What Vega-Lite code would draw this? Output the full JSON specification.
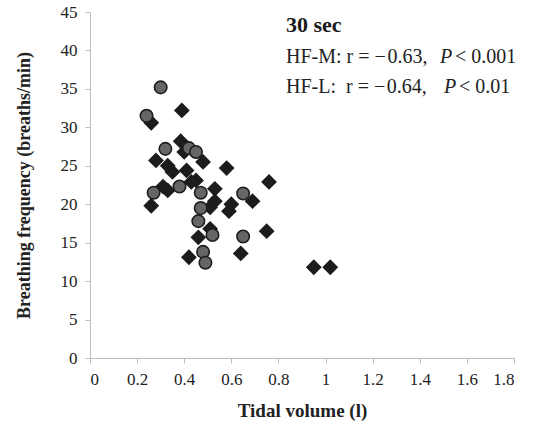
{
  "$schema": "https://vega.github.io/schema/vega-lite/v6.json",
  "width": 424,
  "height": 346,
  "autosize": {"type": "none"},
  "padding": {"left": 90, "top": 12, "right": 19, "bottom": 68},
  "background": "white",
  "config": {
    "view": {"stroke": null},
    "font": "Liberation Serif",
    "text": {"font": "Liberation Serif"},
    "axis": {
      "domainColor": "#bdbdbd",
      "tickColor": "#bdbdbd",
      "tickSize": 5,
      "grid": false,
      "labelFont": "Liberation Serif",
      "labelFontSize": 17,
      "labelColor": "#222222",
      "titleFont": "Liberation Serif",
      "titleFontSize": 18,
      "titleFontWeight": "bold",
      "titleColor": "#222222"
    }
  },
  "datasets": {
    "points": [
      {"group": "HF-M", "volume": 0.39, "freq": 32.2},
      {"group": "HF-M", "volume": 0.26, "freq": 30.6},
      {"group": "HF-M", "volume": 0.385, "freq": 28.2},
      {"group": "HF-M", "volume": 0.40, "freq": 26.8},
      {"group": "HF-M", "volume": 0.28, "freq": 25.7},
      {"group": "HF-M", "volume": 0.33, "freq": 25.0},
      {"group": "HF-M", "volume": 0.35, "freq": 24.2},
      {"group": "HF-M", "volume": 0.41, "freq": 24.4},
      {"group": "HF-M", "volume": 0.48, "freq": 25.5},
      {"group": "HF-M", "volume": 0.58, "freq": 24.7},
      {"group": "HF-M", "volume": 0.45, "freq": 23.1},
      {"group": "HF-M", "volume": 0.43, "freq": 22.9},
      {"group": "HF-M", "volume": 0.76, "freq": 22.9},
      {"group": "HF-M", "volume": 0.31, "freq": 22.3},
      {"group": "HF-M", "volume": 0.33, "freq": 21.8},
      {"group": "HF-M", "volume": 0.53, "freq": 22.0},
      {"group": "HF-M", "volume": 0.53, "freq": 20.4},
      {"group": "HF-M", "volume": 0.69, "freq": 20.4},
      {"group": "HF-M", "volume": 0.60, "freq": 20.0},
      {"group": "HF-M", "volume": 0.59, "freq": 19.1},
      {"group": "HF-M", "volume": 0.51, "freq": 19.6},
      {"group": "HF-M", "volume": 0.26, "freq": 19.8},
      {"group": "HF-M", "volume": 0.51, "freq": 16.8},
      {"group": "HF-M", "volume": 0.46, "freq": 15.7},
      {"group": "HF-M", "volume": 0.75, "freq": 16.5},
      {"group": "HF-M", "volume": 0.42, "freq": 13.1},
      {"group": "HF-M", "volume": 0.64, "freq": 13.6},
      {"group": "HF-M", "volume": 0.95, "freq": 11.8},
      {"group": "HF-M", "volume": 1.02, "freq": 11.8},
      {"group": "HF-L", "volume": 0.30, "freq": 35.2},
      {"group": "HF-L", "volume": 0.24, "freq": 31.5},
      {"group": "HF-L", "volume": 0.32, "freq": 27.2},
      {"group": "HF-L", "volume": 0.42, "freq": 27.3},
      {"group": "HF-L", "volume": 0.45, "freq": 26.8},
      {"group": "HF-L", "volume": 0.38, "freq": 22.3},
      {"group": "HF-L", "volume": 0.27, "freq": 21.5},
      {"group": "HF-L", "volume": 0.47, "freq": 21.5},
      {"group": "HF-L", "volume": 0.65, "freq": 21.4},
      {"group": "HF-L", "volume": 0.47, "freq": 19.5},
      {"group": "HF-L", "volume": 0.46, "freq": 17.8},
      {"group": "HF-L", "volume": 0.52, "freq": 16.0},
      {"group": "HF-L", "volume": 0.65, "freq": 15.8},
      {"group": "HF-L", "volume": 0.48, "freq": 13.8},
      {"group": "HF-L", "volume": 0.49, "freq": 12.4}
    ]
  },
  "encoding": {
    "x": {
      "type": "quantitative",
      "scale": {"domain": [0, 1.8], "nice": false},
      "axis": {"values": [0, 0.2, 0.4, 0.6, 0.8, 1, 1.2, 1.4, 1.6, 1.8], "format": "~g", "labelPadding": 8, "labelFont": "Liberation Serif", "title": "Tidal volume (l)", "titleFontSize": 19, "titleY": 52, "titleBaseline": "middle"}
    },
    "y": {
      "type": "quantitative",
      "scale": {"domain": [0, 45], "nice": false},
      "axis": {"values": [0, 5, 10, 15, 20, 25, 30, 35, 40, 45], "labelPadding": 8, "labelFont": "Liberation Serif", "title": "Breathing frequency (breaths/min)", "titleX": -66, "titleY": 173, "titleBaseline": "middle", "titleAlign": "center", "titleAngle": -90}
    }
  },
  "layer": [
    {
      "data": {"name": "points"},
      "transform": [{"filter": "datum.group === 'HF-M'"}],
      "mark": {"type": "point", "shape": "diamond", "filled": true, "color": "#1c1c1c", "size": 250, "opacity": 1},
      "encoding": {
        "x": {"field": "volume", "type": "quantitative"},
        "y": {"field": "freq", "type": "quantitative"}
      }
    },
    {
      "data": {"name": "points"},
      "transform": [{"filter": "datum.group === 'HF-L'"}],
      "mark": {"type": "point", "shape": "circle", "filled": true, "fill": "#666666", "stroke": "#1e1e1e", "strokeWidth": 1.6, "size": 155, "opacity": 1},
      "encoding": {
        "x": {"field": "volume", "type": "quantitative"},
        "y": {"field": "freq", "type": "quantitative"}
      }
    },
    {
      "data": {"values": [{"label": "30 sec"}]},
      "mark": {"type": "text", "align": "left", "baseline": "alphabetic", "fontSize": 22, "fontWeight": "bold", "color": "#1a1a1a", "font": "Liberation Serif"},
      "encoding": {"x": {"datum": 0.832}, "y": {"datum": 42.4}, "text": {"field": "label"}}
    },
    {
      "data": {"values": [{"label": "HF-M: r = \u2212\u200a0.63,"}]},
      "mark": {"type": "text", "align": "left", "baseline": "alphabetic", "fontSize": 20, "color": "#222222", "font": "Liberation Serif"},
      "encoding": {"x": {"datum": 0.832}, "y": {"datum": 38.36}, "text": {"field": "label"}}
    },
    {
      "data": {"values": [{"label": "P"}]},
      "mark": {"type": "text", "align": "left", "baseline": "alphabetic", "fontSize": 20, "fontStyle": "italic", "color": "#222222", "font": "Liberation Serif"},
      "encoding": {"x": {"datum": 1.486}, "y": {"datum": 38.36}, "text": {"field": "label"}}
    },
    {
      "data": {"values": [{"label": "< 0.001"}]},
      "mark": {"type": "text", "align": "left", "baseline": "alphabetic", "fontSize": 20, "color": "#222222", "font": "Liberation Serif"},
      "encoding": {"x": {"datum": 1.549}, "y": {"datum": 38.36}, "text": {"field": "label"}}
    },
    {
      "data": {"values": [{"label": "HF-L:\u00a0 r = \u2212\u200a0.64,"}]},
      "mark": {"type": "text", "align": "left", "baseline": "alphabetic", "fontSize": 20, "color": "#222222", "font": "Liberation Serif"},
      "encoding": {"x": {"datum": 0.832}, "y": {"datum": 34.46}, "text": {"field": "label"}}
    },
    {
      "data": {"values": [{"label": "P"}]},
      "mark": {"type": "text", "align": "left", "baseline": "alphabetic", "fontSize": 20, "fontStyle": "italic", "color": "#222222", "font": "Liberation Serif"},
      "encoding": {"x": {"datum": 1.503}, "y": {"datum": 34.46}, "text": {"field": "label"}}
    },
    {
      "data": {"values": [{"label": "< 0.01"}]},
      "mark": {"type": "text", "align": "left", "baseline": "alphabetic", "fontSize": 20, "color": "#222222", "font": "Liberation Serif"},
      "encoding": {"x": {"datum": 1.566}, "y": {"datum": 34.46}, "text": {"field": "label"}}
    }
  ]
}
